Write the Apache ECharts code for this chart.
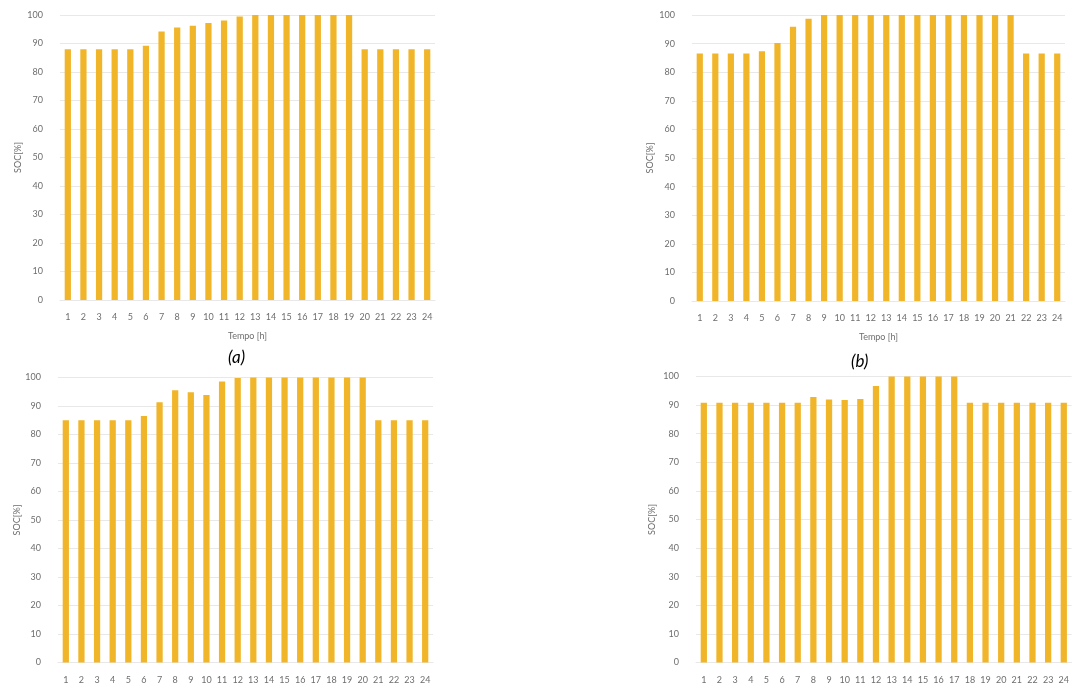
<!DOCTYPE html>
<html>
<head>
<meta charset="utf-8">
<script src="https://cdn.jsdelivr.net/npm/echarts@6/dist/echarts.min.js"></script>
<style>
  html, body { margin: 0; padding: 0; background: #ffffff; }
  #chart { width: 1072px; height: 686px; }
</style>
</head>
<body>
<div id="chart"></div>
<script>
// ---- data ----
const hours = ['1','2','3','4','5','6','7','8','9','10','11','12','13','14','15','16','17','18','19','20','21','22','23','24'];
const socA = [88, 88, 88, 88, 88, 89.2, 94.2, 95.6, 96.2, 97.2, 98.1, 99.5, 100, 100, 100, 100, 100, 100, 100, 88, 88, 88, 88, 88];
const socB = [86.5, 86.5, 86.5, 86.5, 87.3, 90.2, 95.9, 98.7, 100, 100, 100, 100, 100, 100, 100, 100, 100, 100, 100, 100, 100, 86.5, 86.5, 86.5];
const socC = [85, 85, 85, 85, 85, 86.5, 91.3, 95.5, 94.8, 93.9, 98.6, 99.8, 100, 100, 100, 100, 100, 100, 100, 100, 85, 85, 85, 85];
const socD = [90.8, 90.8, 90.8, 90.8, 90.8, 90.8, 90.8, 92.8, 92.0, 91.8, 92.1, 96.7, 100, 100, 100, 100, 100, 90.8, 90.8, 90.8, 90.8, 90.8, 90.8, 90.8];
const panelLabels = ['(a)', '(b)'];
const yName = 'SOC[%]';
const xName = 'Tempo [h]';

// ---- layout ----
const grids = [
  { left: 60,  top: 15,    width: 375, height: 285 },
  { left: 692, top: 15,    width: 373, height: 286 },
  { left: 58,  top: 377.5, width: 375, height: 285 },
  { left: 696, top: 376.5, width: 376, height: 286 }
];
const seriesData = [socA, socB, socC, socD];
const showXName = [true, true, false, false];
const yNameGap = [37, 37, 35, 39];

const labelColor = '#6e6e6e';
const gridColor = '#e8e8e8';
const barColor = '#F1B52A';
const fontFam = 'Lato, "Liberation Sans", sans-serif';

const chart = echarts.init(document.getElementById('chart'), null, { renderer: 'canvas' });

const xAxes = grids.map((g, i) => ({
  type: 'category',
  gridIndex: i,
  data: hours,
  axisTick: { show: false },
  axisLine: { show: true, lineStyle: { color: gridColor, width: 1 } },
  axisLabel: { interval: 0, color: labelColor, fontSize: 9, margin: 13, fontFamily: fontFam },
  name: showXName[i] ? xName : '',
  nameLocation: 'middle',
  nameGap: 32,
  nameTextStyle: { color: labelColor, fontSize: 9, fontFamily: fontFam }
}));

const yAxes = grids.map((g, i) => ({
  type: 'value',
  gridIndex: i,
  min: 0,
  max: 100,
  interval: 10,
  axisLine: { show: false },
  axisTick: { show: false },
  axisLabel: { color: labelColor, fontSize: 9, margin: 17, fontFamily: fontFam },
  splitLine: { show: true, lineStyle: { color: gridColor, width: 1 } },
  name: yName,
  nameLocation: 'middle',
  nameGap: yNameGap[i],
  nameRotate: 90,
  nameTextStyle: { color: labelColor, fontSize: 9, fontFamily: fontFam }
}));

const series = seriesData.map((d, i) => ({
  type: 'bar',
  xAxisIndex: i,
  yAxisIndex: i,
  data: d,
  barWidth: '40%',
  itemStyle: { color: barColor },
  silent: true
}));

chart.setOption({
  backgroundColor: '#ffffff',
  animation: false,
  grid: grids.map(g => Object.assign({ containLabel: false }, g)),
  xAxis: xAxes,
  yAxis: yAxes,
  series: series,
  graphic: [
    { type: 'text', left: 228, top: 349, style: { text: panelLabels[0], font: 'italic 17px ' + fontFam, fill: '#000000' } },
    { type: 'text', left: 851, top: 353, style: { text: panelLabels[1], font: 'italic 17px ' + fontFam, fill: '#000000' } }
  ]
});
</script>
</body>
</html>
